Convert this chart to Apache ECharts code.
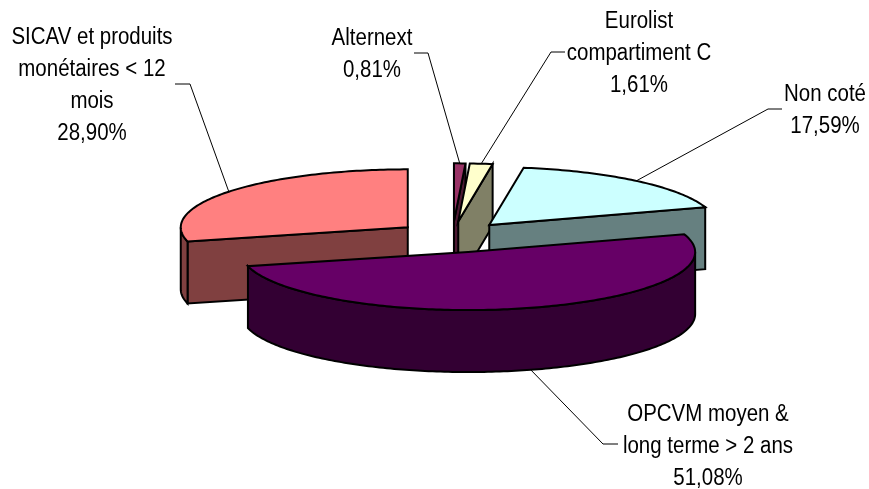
<!DOCTYPE html>
<html><head><meta charset="utf-8">
<style>html,body{margin:0;padding:0;background:#fff}#c{width:869px;height:489px}</style>
<script src="https://cdn.jsdelivr.net/npm/echarts@6/dist/echarts.min.js"></script>
</head><body><div id="c"></div>
<script>
// Data, clockwise from 12 o'clock
const categories = ['Alternext', 'Eurolist compartiment C', 'Non coté', 'OPCVM moyen & long terme > 2 ans', 'SICAV et produits monétaires < 12 mois'];
const values = [0.81, 1.61, 17.59, 51.08, 28.90];
const labelLines = [
  ['Alternext', '0,81%'],
  ['Eurolist', 'compartiment C', '1,61%'],
  ['Non coté', '17,59%'],
  ['OPCVM moyen &', 'long terme > 2 ans', '51,08%'],
  ['SICAV et produits', 'monétaires < 12', 'mois', '28,90%']
];
const topColors = ['#993366', '#FFFFCC', '#CCFFFF', '#660066', '#FF8080'];
const wallColors = ['#4D1A33', '#808066', '#668080', '#330033', '#804040'];

// Layout (pixels / projection)
const CX = 452.5, CY = 237, RX = 227, RY = 58, DEPTH = 62, EXPLODE = 0.25, EXPLODE_Y = 0.27;
const labelX = [372, 639, 825, 708, 92];
const labelTop = [39, 22, 95, 415, 38];
const LINE_H = 32;
const elbows = [[[428, 53], [414, 53]], [[551, 52], [565, 52]], [[768, 109], [782, 109]], [[603, 444], [618, 444]], [[190, 84], [175, 84]]];
const FONT = '23px "Liberation Sans", Arial, sans-serif';
const TEXT_SCALE_X = 0.89;

const total = values.reduce((a, b) => a + b, 0);
let acc = 0;
const slices = values.map((v, i) => {
  const start = acc / total * 360; acc += v;
  const end = acc / total * 360;
  return { i, start, end, mid: (start + end) / 2 };
});
const rad = d => d * Math.PI / 180;
// paint back to front
const order = slices.slice().sort((a, b) => -Math.cos(rad(a.mid)) - -Math.cos(rad(b.mid)));

function renderItem(params, api) {
  const s = order[params.dataIndex];
  const ox = EXPLODE * Math.sin(rad(s.mid)), oy = -EXPLODE_Y * Math.cos(rad(s.mid));
  const dy = DEPTH / RY;
  const P = (deg, r, down) => api.coord([ox + r * Math.sin(rad(deg)), oy - r * Math.cos(rad(deg)) + (down ? dy : 0)]);
  const line = { stroke: '#000', lineWidth: 2, lineJoin: 'miter' };
  const kids = [];
  const poly = (points, fill) => kids.push({ type: 'polygon', shape: { points }, style: Object.assign({ fill }, line), silent: true });
  const wall = wallColors[s.i], top = topColors[s.i];

  // radial side wall
  if (s.start > 180 && s.start < 360) poly([P(0, 0, false), P(s.start, 1, false), P(s.start, 1, true), P(0, 0, true)], wall);
  if (s.end > 0 && s.end < 180) poly([P(0, 0, false), P(s.end, 1, false), P(s.end, 1, true), P(0, 0, true)], wall);
  // outer curved wall
  const a0 = Math.max(s.start, 90), a1 = Math.min(s.end, 270);
  if (a1 > a0) {
    const up = [], dn = [];
    for (let d = a0; d < a1; d += 1) { up.push(P(d, 1, false)); dn.unshift(P(d, 1, true)); }
    up.push(P(a1, 1, false)); dn.unshift(P(a1, 1, true));
    poly(up.concat(dn), wall);
  }
  // top face
  const pts = [P(0, 0, false)];
  for (let d = s.start; d < s.end; d += 1) pts.push(P(d, 1, false));
  pts.push(P(s.end, 1, false));
  poly(pts, top);

  // leader line: from the slice's mid-angle rim
  const front = Math.cos(rad(s.mid)) < 0;
  const anchor = P(s.mid, 1, front);
  kids.push({ type: 'polyline', shape: { points: [anchor].concat(elbows[s.i]) }, style: { stroke: '#000', lineWidth: 1, fill: null }, silent: true });
  // label
  labelLines[s.i].forEach((t, k) => kids.push({
    type: 'text', silent: true,
    x: labelX[s.i], y: labelTop[s.i] + k * LINE_H, scaleX: TEXT_SCALE_X,
    style: { text: t, x: 0, y: 0, font: FONT, fill: '#000', align: 'center', verticalAlign: 'middle' }
  }));
  return { type: 'group', children: kids };
}

const chart = echarts.init(document.getElementById('c'), null, { renderer: 'canvas' });
chart.setOption({
  animation: false,
  backgroundColor: '#fff',
  grid: { left: CX - RX, top: CY - RY, width: 2 * RX, height: 2 * RY },
  xAxis: { type: 'value', min: -1, max: 1, show: false },
  yAxis: { type: 'value', min: -1, max: 1, inverse: true, show: false },
  series: [{
    type: 'custom', coordinateSystem: 'cartesian2d', clip: false, renderItem,
    encode: { x: -1, y: -1 },
    data: order.map(s => ({ name: categories[s.i], value: [values[s.i]] }))
  }]
});
</script></body></html>
